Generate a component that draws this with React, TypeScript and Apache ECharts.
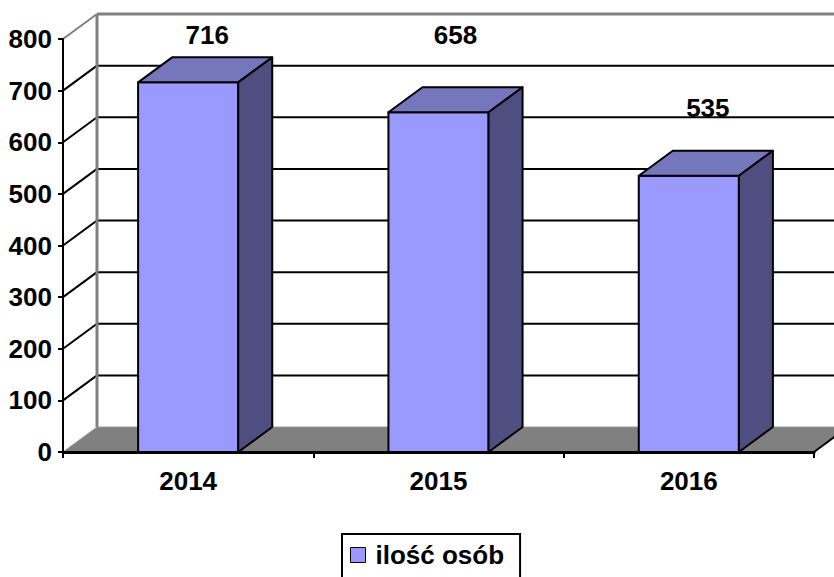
import React, { useEffect, useRef } from "react";
import * as echarts from "echarts";

const categories = ["2014", "2015", "2016"];
const values = [716, 658, 535];
const yTicks = [0, 100, 200, 300, 400, 500, 600, 700, 800];
const seriesName = "ilość osób";

// style constants
const DX = 34;
const DY = -25;
const FONT = "Liberation Sans";
const labelOffsets = [
  [19, -47],
  [17, -77],
  [19, -68],
];

export default function App() {
  const ref = useRef<HTMLDivElement>(null);
  useEffect(() => {
    document.body.style.margin = "0";
    const chart = echarts.init(ref.current!, null, { renderer: "svg" });

    const renderWalls = (params: any, api: any) => {
      const cs = params.coordSys;
      const x0 = cs.x;
      const x1 = cs.x + cs.width;
      const children: any[] = [];
      const yBase = api.coord([0, 0])[1];
      // floor
      children.push({
        type: "polygon",
        shape: {
          points: [
            [x0, yBase],
            [x0 + DX, yBase + DY],
            [x1 + DX, yBase + DY],
            [x1, yBase],
          ],
        },
        style: { fill: "#808080", stroke: "#9a9a9a", lineWidth: 1 },
      });
      yTicks.forEach((v, i) => {
        if (v === 0) return;
        const y = api.coord([0, v])[1];
        const top = i === yTicks.length - 1;
        const color = top ? "#808080" : "#000";
        children.push({
          type: "line",
          shape: { x1: x0 + DX, y1: y + DY, x2: x1 + DX, y2: y + DY },
          style: { stroke: color, lineWidth: top ? 3 : 2 },
        });
        children.push({
          type: "line",
          shape: { x1: x0, y1: y, x2: x0 + DX, y2: y + DY },
          style: { stroke: color, lineWidth: 2 },
        });
      });
      const yTop = api.coord([0, yTicks[yTicks.length - 1]])[1];
      children.push({
        type: "line",
        shape: { x1: x0 + DX, y1: yTop + DY, x2: x0 + DX, y2: yBase + DY },
        style: { stroke: "#808080", lineWidth: 3 },
      });
      // right front edge of floor
      children.push({
        type: "line",
        shape: { x1: x1, y1: yBase, x2: x1 + DX, y2: yBase + DY },
        style: { stroke: "#000", lineWidth: 2 },
      });
      return { type: "group", children, silent: true };
    };

    const renderBar = (params: any, api: any) => {
      const idx = api.value(0);
      const val = api.value(1);
      const top = api.coord([idx, val]);
      const base = api.coord([idx, 0]);
      const w = api.size([1, 0])[0] * 0.4;
      const xl = top[0] - w / 2;
      const xr = top[0] + w / 2;
      const yt = top[1];
      const yb = base[1];
      const stroke = { stroke: "#000", lineWidth: 2, lineJoin: "round" };
      const off = labelOffsets[params.dataIndex] || [0, -30];
      return {
        type: "group",
        children: [
          {
            type: "polygon",
            shape: { points: [[xl, yb], [xl, yt], [xr, yt], [xr, yb]] },
            style: { fill: "#9999FF", ...stroke },
          },
          {
            type: "polygon",
            shape: {
              points: [[xl, yt], [xl + DX, yt + DY], [xr + DX, yt + DY], [xr, yt]],
            },
            style: { fill: "#7676BD", ...stroke },
          },
          {
            type: "polygon",
            shape: {
              points: [[xr, yt], [xr + DX, yt + DY], [xr + DX, yb + DY], [xr, yb]],
            },
            style: { fill: "#4E4E80", ...stroke },
          },
          {
            type: "text",
            style: {
              text: String(val),
              x: top[0] + off[0],
              y: yt + off[1],
              align: "center",
              verticalAlign: "middle",
              fontSize: 26,
              fontWeight: "bold",
              fontFamily: FONT,
              fill: "#000",
            },
          },
        ],
      };
    };

    chart.setOption({
      animation: false,
      backgroundColor: "#fff",
      textStyle: { fontFamily: FONT },
      grid: { left: 63, top: 39, width: 751, height: 413, containLabel: false },
      legend: {
        data: [seriesName],
        left: 342,
        top: 534,
        orient: "horizontal",
        icon: "rect",
        itemWidth: 15,
        itemHeight: 15,
        borderColor: "#000",
        borderWidth: 2,
        borderRadius: 0,
        padding: [8, 16, 40, 8],
        itemStyle: { borderColor: "#000", borderWidth: 1 },
        textStyle: {
          fontSize: 26,
          fontWeight: "bold",
          fontFamily: FONT,
          color: "#000",
          padding: [0, 0, 0, 5],
        },
      },
      xAxis: {
        type: "category",
        data: categories,
        boundaryGap: true,
        z: 5,
        axisLine: { show: true, lineStyle: { color: "#000", width: 3 } },
        axisTick: { show: true, length: 6, lineStyle: { color: "#000", width: 2 } },
        axisLabel: {
          margin: 16,
          fontSize: 26,
          fontWeight: "bold",
          fontFamily: FONT,
          color: "#000",
        },
        splitLine: { show: false },
      },
      yAxis: {
        type: "value",
        min: 0,
        max: 800,
        interval: 100,
        z: 5,
        axisLine: { show: true, lineStyle: { color: "#000", width: 2 } },
        axisTick: { show: true, length: 5, lineStyle: { color: "#000", width: 2 } },
        axisLabel: {
          margin: 11,
          fontSize: 26,
          fontWeight: "bold",
          fontFamily: FONT,
          color: "#000",
        },
        splitLine: { show: false },
      },
      series: [
        {
          type: "custom",
          name: "walls",
          z: 1,
          silent: true,
          renderItem: renderWalls,
          data: [[0, 0]],
          encode: { x: 0, y: 1 },
        },
        {
          type: "custom",
          name: seriesName,
          z: 3,
          itemStyle: { color: "#9999FF", borderColor: "#000", borderWidth: 1 },
          renderItem: renderBar,
          data: values.map((v, i) => [i, v]),
          encode: { x: 0, y: 1 },
        },
      ],
    });
    return () => chart.dispose();
  }, []);
  return <div ref={ref} style={{ width: 834, height: 577 }} />;
}
